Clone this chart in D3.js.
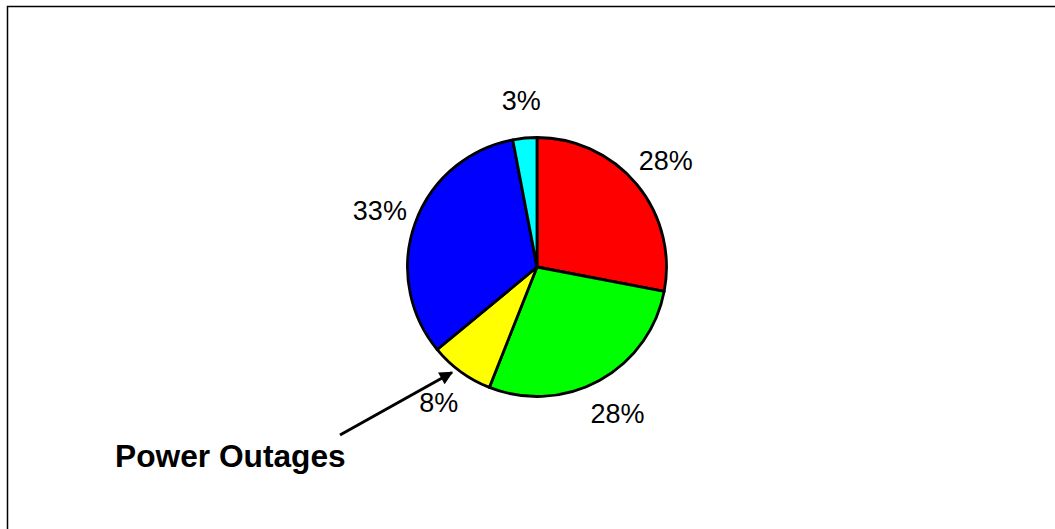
<!DOCTYPE html>
<html>
<head>
<meta charset="utf-8">
<script src="https://cdn.jsdelivr.net/npm/d3@7"></script>
<style>
  body { margin: 0; background: #fff; }
  svg { display: block; font-family: "Liberation Sans", Arial, sans-serif; }
</style>
</head>
<body>
<svg id="chart" width="1055" height="529"></svg>
<script>
// slice data, clockwise from 12 o'clock
const categories = ["A", "B", "Power Outages", "D", "E"];
const shares = [28, 28, 8, 33, 3];
const colors = ["#ff0000", "#00ff00", "#ffff00", "#0000ff", "#00ffff"];
const labels = ["28%", "28%", "8%", "33%", "3%"];

const width = 1055, height = 529;
const cx = 537, cy = 267, radius = 129.5;

const svg = d3.select("#chart");

// chart area border (runs off the right/bottom edge)
svg.append("rect")
  .attr("x", 7.5).attr("y", 6.5)
  .attr("width", width + 20).attr("height", height + 20)
  .attr("fill", "none")
  .attr("stroke", "#000")
  .attr("stroke-width", 1.5);

const pie = d3.pie().sort(null).value(d => d)(shares);
const arc = d3.arc().innerRadius(0).outerRadius(radius);
const labelArc = d3.arc().innerRadius(167).outerRadius(167);

const g = svg.append("g").attr("transform", `translate(${cx},${cy})`);

g.selectAll("path")
  .data(pie)
  .join("path")
  .attr("d", arc)
  .attr("fill", (d, i) => colors[i])
  .attr("stroke", "#000")
  .attr("stroke-width", 2.8)
  .attr("stroke-linejoin", "round");

g.selectAll("text.pct")
  .data(pie)
  .join("text")
  .attr("class", "pct")
  .attr("transform", d => `translate(${labelArc.centroid(d)})`)
  .attr("text-anchor", "middle")
  .attr("dy", "0.36em")
  .attr("font-size", 27)
  .attr("fill", "#000")
  .text((d, i) => labels[i]);

// annotation arrow pointing at the "Power Outages" slice
const target = pie[categories.indexOf("Power Outages")];
const tipAngle = target.startAngle + (target.endAngle - target.startAngle) * 0.6;
const tipR = radius + 6;
const tip = [cx + tipR * Math.sin(tipAngle), cy - tipR * Math.cos(tipAngle)];
const tail = [340, 435];

svg.append("defs").append("marker")
  .attr("id", "head")
  .attr("viewBox", "0 0 10 10")
  .attr("refX", 9).attr("refY", 5)
  .attr("markerWidth", 5).attr("markerHeight", 4.5)
  .attr("markerUnits", "strokeWidth")
  .attr("orient", "auto")
  .append("path")
  .attr("d", "M0,0 L10,5 L0,10 z")
  .attr("fill", "#000");

svg.append("line")
  .attr("x1", tail[0]).attr("y1", tail[1])
  .attr("x2", tip[0]).attr("y2", tip[1])
  .attr("stroke", "#000")
  .attr("stroke-width", 3)
  .attr("marker-end", "url(#head)");

svg.append("text")
  .attr("x", 115).attr("y", 467)
  .attr("font-size", 31.7)
  .attr("font-weight", "bold")
  .attr("fill", "#000")
  .text("Power Outages");
</script>
</body>
</html>
